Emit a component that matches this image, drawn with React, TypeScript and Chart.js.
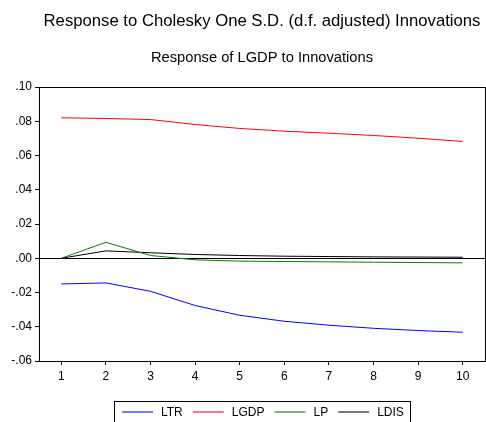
import { useEffect, useRef } from 'react';
import { Chart, registerables } from 'chart.js';

Chart.register(...registerables);

const periods = ['1', '2', '3', '4', '5', '6', '7', '8', '9', '10'];
const ltr = [-0.015, -0.0144, -0.0193, -0.0276, -0.0333, -0.0368, -0.0391, -0.0409, -0.0422, -0.0432];
const lgdp = [0.082, 0.0816, 0.081, 0.0781, 0.0758, 0.0742, 0.073, 0.0717, 0.0701, 0.0682];
const lp = [0.0, 0.0093, 0.0016, -0.0009, -0.0017, -0.0019, -0.0021, -0.0023, -0.0025, -0.0027];
const ldis = [0.0, 0.0043, 0.0032, 0.0022, 0.0016, 0.0012, 0.001, 0.0008, 0.0007, 0.0006];

const seriesNames = ['LTR', 'LGDP', 'LP', 'LDIS'];
const seriesColors = ['#0000ff', '#ff0000', '#008000', '#000000'];

const mainTitle = 'Response to Cholesky One S.D. (d.f. adjusted) Innovations';
const subTitle = 'Response of LGDP to Innovations';

const FONT = '"Liberation Sans", Arial, sans-serif';

const fmt = (v: number) => {
  const s = Math.abs(v).toFixed(2).replace(/^0/, '');
  return (v < -1e-9 ? '-' : '') + s;
};

const decorPlugin = {
  id: 'decor',
  afterDraw(chart: any) {
    const ctx = chart.ctx as CanvasRenderingContext2D;
    const { left, right, top, bottom } = chart.chartArea;
    ctx.save();
    // frame
    ctx.strokeStyle = '#000';
    ctx.lineWidth = 1;
    ctx.beginPath();
    ctx.moveTo(left, top + 0.5);
    ctx.lineTo(right + 0.5, top + 0.5);
    ctx.lineTo(right + 0.5, bottom);
    ctx.stroke();
    // titles
    const cx = (left + right) / 2;
    ctx.fillStyle = '#000';
    ctx.textAlign = 'center';
    ctx.textBaseline = 'alphabetic';
    ctx.font = `16.7px ${FONT}`;
    ctx.fillText(mainTitle, cx, 26);
    ctx.font = `14.7px ${FONT}`;
    ctx.fillText(subTitle, cx, 62);
    // legend
    ctx.font = `12px ${FONT}`;
    ctx.textAlign = 'left';
    const lineW = 31;
    const gapText = 8;
    const gapItem = 10;
    let x = 122;
    const ly = 412;
    seriesNames.forEach((name, i) => {
      ctx.strokeStyle = seriesColors[i];
      ctx.globalAlpha = 0.7;
      ctx.lineWidth = 1.5;
      ctx.beginPath();
      ctx.moveTo(x, ly);
      ctx.lineTo(x + lineW, ly);
      ctx.stroke();
      ctx.globalAlpha = 1;
      x += lineW + gapText;
      ctx.fillStyle = '#000';
      ctx.fillText(name, x, 416);
      x += ctx.measureText(name).width + gapItem;
    });
    ctx.strokeStyle = '#000';
    ctx.lineWidth = 1;
    ctx.strokeRect(114.5, 401.5, 296, 22);
    ctx.restore();
  },
};

export default function App() {
  const ref = useRef<HTMLCanvasElement>(null);
  useEffect(() => {
    document.body.style.margin = '0';
    const series = [ltr, lgdp, lp, ldis];
    const chart = new Chart(ref.current!, {
      type: 'line',
      data: {
        labels: periods,
        datasets: series.map((d, i) => ({
          label: seriesNames[i],
          data: d,
          borderColor: seriesColors[i],
          backgroundColor: seriesColors[i],
          borderWidth: 1,
          pointRadius: 0,
          tension: 0,
          fill: false,
        })),
      },
      options: {
        animation: false,
        responsive: false,
        devicePixelRatio: 1,
        layout: { padding: { top: 87, right: 1, left: 0, bottom: 0 } },
        plugins: {
          legend: { display: false },
          title: { display: false },
          tooltip: { enabled: false },
        },
        scales: {
          x: {
            offset: true,
            grid: {
              display: true,
              drawOnChartArea: false,
              drawTicks: true,
              tickLength: 4,
              tickColor: '#000',
              color: '#000',
            },
            border: { display: true, color: '#000', width: 1 },
            ticks: {
              color: '#000',
              font: { family: FONT, size: 12 },
              padding: 4,
              maxRotation: 0,
            },
            afterFit(scale: any) {
              scale.height = 61;
            },
          },
          y: {
            min: -0.06,
            max: 0.1,
            grid: {
              drawOnChartArea: true,
              drawTicks: true,
              tickLength: 4,
              tickColor: '#000',
              color: (c: any) => (c.tick && Math.abs(c.tick.value) < 1e-9 ? '#000' : 'rgba(0,0,0,0)'),
            },
            border: { display: true, color: '#000', width: 1 },
            ticks: {
              stepSize: 0.02,
              color: '#000',
              font: { family: FONT, size: 12 },
              padding: 3,
              callback: (v: any) => fmt(Number(v)),
            },
            afterFit(scale: any) {
              scale.width = 39;
            },
          },
        },
      },
      plugins: [decorPlugin],
    });
    return () => chart.destroy();
  }, []);
  return (
    <canvas
      ref={ref}
      width={486}
      height={422}
      style={{ display: 'block', width: 486, height: 422 }}
    />
  );
}
